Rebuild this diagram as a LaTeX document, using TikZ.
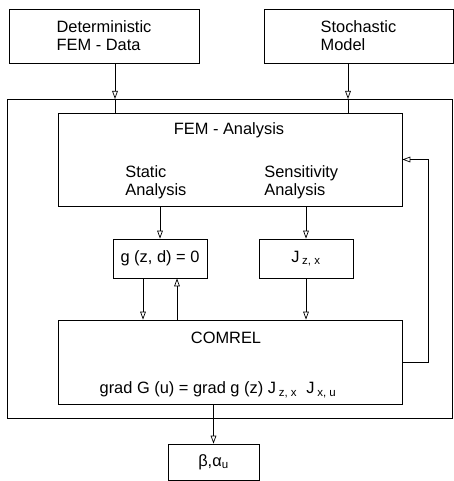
\documentclass[tikz,border=0pt]{standalone}
\usepackage{fontspec}
\setmainfont{Liberation Sans}
\usetikzlibrary{arrows.meta,calc}

\tikzset{
  box/.style={draw, line width=0.6pt, inner sep=0pt, align=left},
  txt/.style={inner sep=0pt, align=left},
}

\begin{document}
\begin{tikzpicture}[x=0.03cm, y=-0.03cm, line width=0.6pt,
    >={Triangle[open, length=2.4mm, width=1.7mm]}, font=\fontsize{14}{15.5}\selectfont]
    \useasboundingbox (0,0) rectangle (454,481);

    \node[box, minimum width=5.7cm, minimum height=1.62cm] (det) at (104,36) {Deterministic\\FEM - Data};
    \node[box, minimum width=5.67cm, minimum height=1.62cm] (stoch) at (358.5,36) {Stochastic\\Model};

    \draw (7,99) rectangle (452,418);
    \coordinate (in1) at (115,99);
    \coordinate (in2) at (348,99);

    \node[box, minimum width=10.32cm, minimum height=2.79cm] (fem) at (230,159.5) {};
    \node[txt] (femtitle) at (229,130) {FEM - Analysis};
    \node[txt, anchor=west] (static) at (125,182) {Static\\Analysis};
    \node[txt, anchor=west] (sens) at (264,182) {Sensitivity\\Analysis};

    \node[box, minimum width=2.82cm, minimum height=1.17cm] (g) at (160,258.5) {g (z, d) = 0};
    \node[box, minimum width=2.82cm, minimum height=1.17cm] (jac) at (306,258.5) {J\,\textsubscript{z, x}};

    \node[box, minimum width=10.32cm, minimum height=2.52cm] (com) at (230,362) {};
    \node[txt] (comtitle) at (226,338) {COMREL};
    \node[txt] (grad) at (218,390) {grad G (u) = grad g (z)\ J\,\textsubscript{z, x}\ \ J\,\textsubscript{x, u}};

    \node[box, minimum width=2.73cm, minimum height=1.08cm] (beta) at (213.5,462) {β,α\textsubscript{u}};

    % inputs
    \draw[->] (det.south -| in1) -- (in1);
    \draw (in1) -- (in1 |- fem.north);
    \draw[->] (stoch.south -| in2) -- (in2);
    \draw (in2) -- (in2 |- fem.north);

    \draw[->] (fem.south -| g.north) -- (g.north);
    \draw[->] (fem.south -| jac.north) -- (jac.north);
    \draw[->] ($(g.south)+(-17,0)$) -- ($(g.south |- com.north)+(-17,0)$);
    \draw[->] ($(g.south |- com.north)+(17,0)$) -- ($(g.south)+(17,0)$);
    \draw[->] (jac.south) -- (jac.south |- com.north);

    % loop back
    \draw[->] (com.east) -- ++(26,0) |- (fem.east);

    \draw[->] (com.south -| beta.north) -- (beta.north);
  \end{tikzpicture}
\end{document}
